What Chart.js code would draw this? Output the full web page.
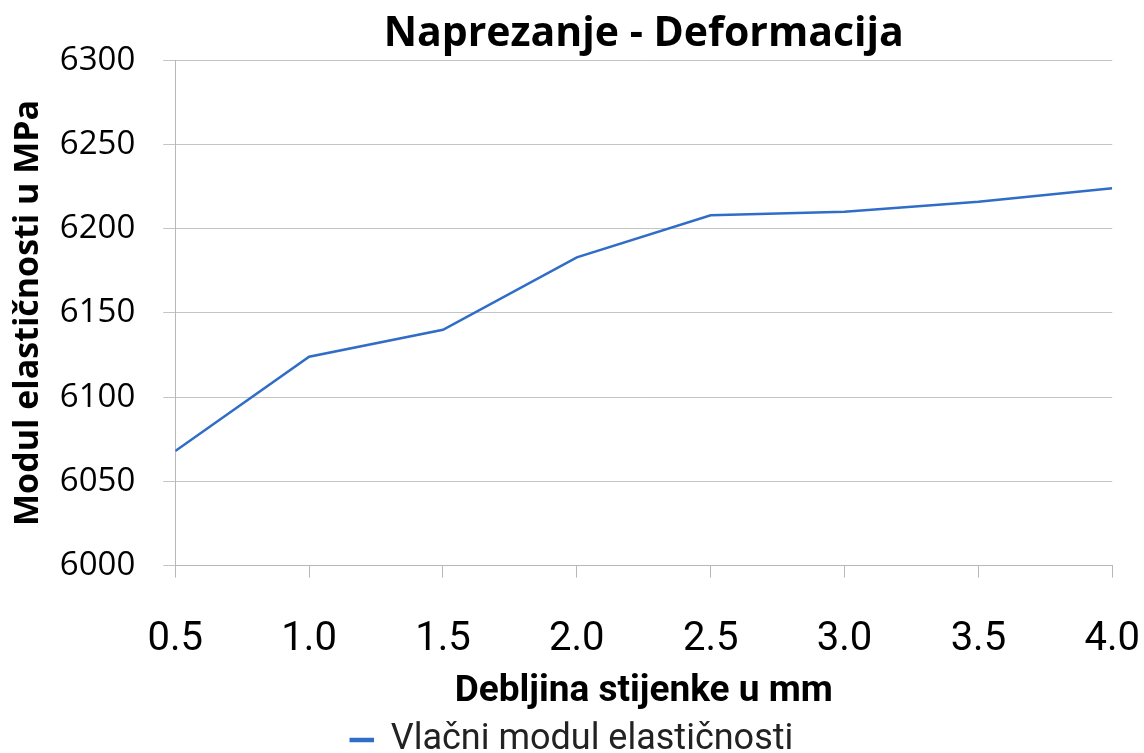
<!DOCTYPE html>
<html>
<head>
<meta charset="utf-8">
<title>Naprezanje - Deformacija</title>
<script src="https://cdn.jsdelivr.net/npm/chart.js@4.4.1/dist/chart.umd.min.js"></script>
<style>
  html, body { margin: 0; padding: 0; background: #fff; }
  canvas { display: block; }
</style>
</head>
<body>
<canvas id="chart" width="1144" height="753"></canvas>
<script>
// debljina stijenke (mm) and measured tensile modulus (MPa)
const thickness = [0.5, 1.0, 1.5, 2.0, 2.5, 3.0, 3.5, 4.0];
const modulus = [6068, 6124, 6140, 6183, 6208, 6210, 6216, 6224];

const seriesLabel = 'Vlačni modul elastičnosti';
const lineColor = '#2f6dc6';

const ctx = document.getElementById('chart').getContext('2d');

new Chart(ctx, {
    type: 'line',
    data: {
        datasets: [{
            label: seriesLabel,
            data: thickness.map((t, i) => ({ x: t, y: modulus[i] })),
            borderColor: lineColor,
            backgroundColor: lineColor,
            borderWidth: 2.5,
            pointRadius: 0,
            tension: 0
        }]
    },
    options: {
        responsive: false,
        animation: false,
        // negative bottom padding pushes the legend down to the canvas edge
        layout: { padding: { left: 0, right: 0, top: 0, bottom: -15 } },
        plugins: {
            title: {
                display: true,
                fullSize: false,
                text: 'Naprezanje - Deformacija',
                color: '#000',
                font: { family: 'Open Sans', size: 41, weight: 'bold' },
                padding: { top: 10, bottom: 1 }
            },
            legend: {
                position: 'bottom',
                labels: {
                    color: '#222',
                    boxWidth: 22,
                    boxHeight: 2,
                    padding: 2,
                    font: { family: 'Roboto', size: 36 }
                }
            },
            tooltip: { enabled: false }
        },
        scales: {
            x: {
                type: 'linear',
                min: 0.5,
                max: 4,
                ticks: {
                    stepSize: 0.5,
                    color: '#000',
                    padding: 4,
                    // tall line box moves the labels down without widening the side padding
                    font: { family: 'Roboto', size: 40, lineHeight: 2.9 },
                    callback: v => v.toFixed(1)
                },
                grid: { drawOnChartArea: false, drawTicks: true, tickLength: 12, color: '#b8b8b8' },
                border: { color: '#b8b8b8' },
                title: {
                    display: true,
                    text: 'Debljina stijenke u mm',
                    color: '#000',
                    font: { family: 'Roboto', size: 37, weight: 'bold' },
                    padding: { top: -32, bottom: 6 }
                }
            },
            y: {
                min: 6000,
                max: 6300,
                ticks: {
                    stepSize: 50,
                    color: '#000',
                    padding: 28,
                    font: { family: 'Open Sans', size: 33 },
                    callback: v => String(v)
                },
                grid: { color: '#c4c4c4', tickLength: 12 },
                border: { color: '#b8b8b8' },
                title: {
                    display: true,
                    text: 'Modul elastičnosti u MPa',
                    color: '#000',
                    font: { family: 'Open Sans', size: 34, weight: 'bold' },
                    padding: { top: 8, bottom: -17 }
                }
            }
        }
    }
});
</script>
</body>
</html>
